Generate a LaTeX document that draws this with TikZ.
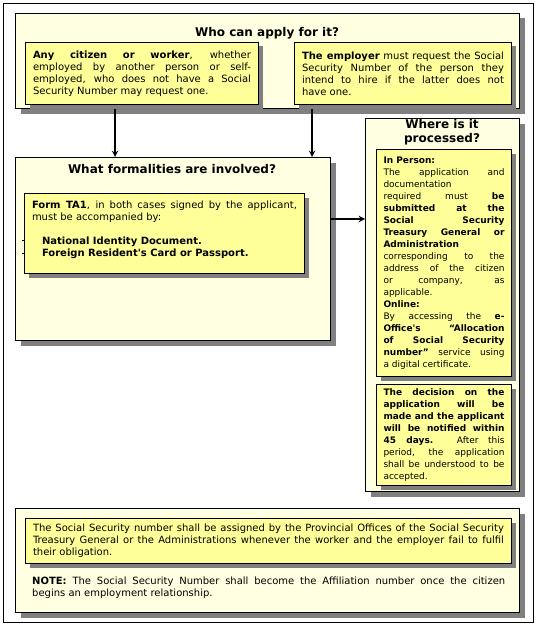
\documentclass[tikz,border=0pt]{standalone}
\usepackage{fontspec}
\setmainfont{DejaVu Sans}
\usetikzlibrary{shapes,arrows,positioning,fit,calc,shadows}
\definecolor{panelyellow}{HTML}{FFFFE1}
\definecolor{cardyellow}{HTML}{FFFF99}
\definecolor{shadowgray}{HTML}{808080}
\hyphenpenalty=10000

\begin{document}
\begin{tikzpicture}[
  x=1pt, y=-1pt,
  panel/.style={rectangle, draw, line width=1pt, fill=panelyellow, anchor=north west, inner sep=0pt,
    drop shadow={shadow xshift=5pt, shadow yshift=-5pt, fill=shadowgray, opacity=1}},
  card/.style={rectangle, draw, line width=1pt, fill=cardyellow, anchor=north west, inner xsep=7.5pt, inner ysep=3pt,
    align=justify, font=\fontsize{10}{12}\selectfont,
    drop shadow={shadow xshift=4pt, shadow yshift=-4pt, fill=shadowgray, opacity=1}},
  narrowcard/.style={card, inner xsep=7pt, font=\fontsize{9}{12}\selectfont},
  heading/.style={font=\fontsize{12}{14}\selectfont\bfseries, align=center},
  arrow/.style={->, >=stealth, line width=1.8pt}
]
  \useasboundingbox (0,0) rectangle (539,626);
  \node[draw, line width=1pt, anchor=north west, inner sep=0pt, minimum width=530pt, minimum height=619pt] (frame) at (3,3) {};

  % who can apply
  \node[panel, minimum width=504pt, minimum height=95pt] (apply) at (15,13) {};
  \node[heading] (applytitle) at (267,33) {Who can apply for it?};
  \node[card, minimum width=233pt, minimum height=62pt, text width=218pt] (citizen) at (25,42)
    {\textbf{Any citizen or worker}, whether\linebreak employed by another person or self-\linebreak employed, who does not have a Social\linebreak Security Number may request one.};
  \node[card, minimum width=217pt, minimum height=62pt, text width=202pt] (employer) at (294,42)
    {\textbf{The employer} must request the Social\linebreak Security Number of the person they\linebreak intend to hire if the latter does not\linebreak have one.};

  % formalities
  \node[panel, minimum width=315pt, minimum height=183pt] (formal) at (15,157) {};
  \node[heading] (formaltitle) at (172,169) {What formalities are involved?};
  \node[card, minimum width=280pt, minimum height=80pt, text width=265pt] (forms) at (24,193)
    {\textbf{Form TA1}, in both cases signed by the applicant,\linebreak must be accompanied by:\\[12pt]
     \hspace*{10pt}\textbf{National Identity Document.}\\
     \hspace*{10pt}\textbf{Foreign Resident\textquotesingle s Card or Passport.}\\[-2pt]\mbox{}};
  \draw[line width=0.6pt] ([xshift=-2pt, yshift=-47pt]forms.north west) -- ++(3,0);
  \draw[line width=0.6pt] ([xshift=-2pt, yshift=-60pt]forms.north west) -- ++(3,0);

  % where is it processed
  \node[panel, minimum width=154pt, minimum height=373pt] (where) at (365,118) {};
  \node[heading] (wheretitle) at (442,132) {Where is it\\processed?};
  \node[narrowcard, minimum width=135pt, minimum height=227pt, text width=121pt] (inperson) at (376,149)
    {\textbf{In Person:}\\
     The application and\linebreak documentation\\
     required must \textbf{be\linebreak submitted at the\linebreak Social Security\linebreak Treasury General or\linebreak Administration}\\
     corresponding to the\linebreak address of the citizen\linebreak or company, as\linebreak applicable.\\
     \textbf{Online:}\\
     By accessing the \textbf{e-\linebreak Office\textquotesingle s ``Allocation\linebreak of Social Security\linebreak number''} service using\linebreak a digital certificate.};
  \node[narrowcard, minimum width=135pt, minimum height=101pt, text width=121pt] (decision) at (376,384)
    {\textbf{The decision on the\linebreak application will be\linebreak made and the applicant\linebreak will be notified within\linebreak 45 days.} After this\linebreak period, the application\linebreak shall be understood to be\linebreak accepted.};

  % assignment and note
  \node[panel, minimum width=504pt, minimum height=104pt] (assign) at (15,508) {};
  \node[card, minimum width=486pt, minimum height=45pt, text width=471pt] (assigntxt) at (25,518)
    {The Social Security number shall be assigned by the Provincial Offices of the Social Security\linebreak Treasury General or the Administrations whenever the worker and the employer fail to fulfil\linebreak their obligation.};
  \node[anchor=north west, inner sep=0pt, text width=473pt, align=justify, font=\fontsize{10}{12}\selectfont] (note) at (32,577)
    {\textbf{NOTE:} The Social Security Number shall become the Affiliation number once the citizen\linebreak begins an employment relationship.};

  \draw[arrow] ([xshift=100pt]apply.south west) -- ([xshift=100pt]formal.north west);
  \draw[arrow] ([xshift=297pt]apply.south west) -- ([xshift=297pt]formal.north west);
  \coordinate (fo) at ([yshift=-62pt]formal.north east);
  \draw[arrow] (fo) -- (fo -| where.west);
\end{tikzpicture}
\end{document}
